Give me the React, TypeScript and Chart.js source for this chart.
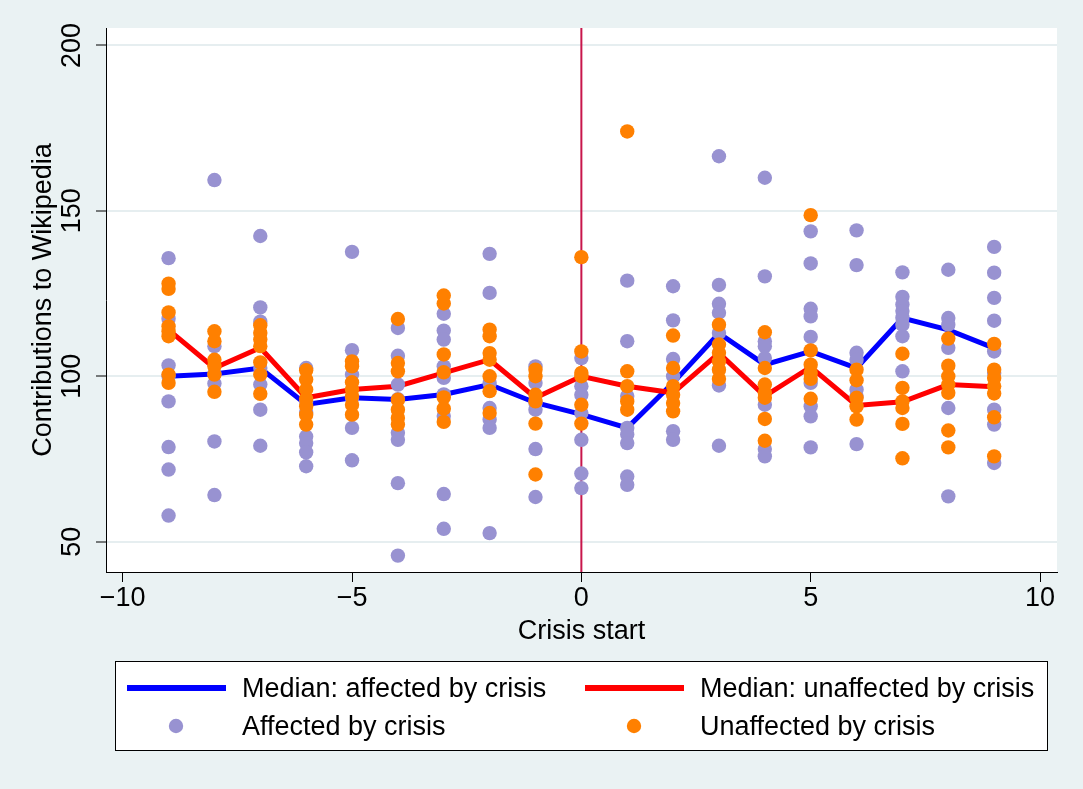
import { useEffect, useRef } from "react";
import { Chart, registerables } from "chart.js";

Chart.register(...registerables);

// Years relative to the start of the crisis
const periods = [-9, -8, -7, -6, -5, -4, -3, -2, -1, 0, 1, 2, 3, 4, 5, 6, 7, 8, 9];

// Median contributions per period
const medianAffected = [100, 100.7, 102.5, 91.5, 93.5, 93, 94.5, 97.5, 92, 88.5, 84.4, 98, 113, 103.5, 107.5, 102.5, 117.6, 114, 108.5];
const medianUnaffected = [114, 102.5, 108.6, 93.5, 96, 97, 101, 105, 93.5, 100, 97, 95, 107, 94, 102.8, 91.2, 92.3, 97.5, 96.8];

// Individual observations per period (same order as `periods`)
const affected: number[][] = [
  [135.7, 117.4, 103.3, 100, 92.4, 78.6, 71.8, 57.9],
  [159.3, 109.1, 100.7, 97.8, 80.3, 64.1],
  [142.4, 120.8, 116.5, 102.5, 97.5, 89.9, 79.0],
  [102.5, 92.4, 89, 81.8, 79.8, 77.0, 72.8],
  [137.6, 107.9, 100.5, 93.5, 84.4, 74.6],
  [114.6, 106.2, 97.5, 93.1, 82.9, 80.8, 67.7, 45.8],
  [118.9, 113.8, 111.1, 103.0, 99.5, 94.5, 88.0, 64.4, 53.9],
  [137.0, 125.2, 98.0, 90.4, 86.9, 84.4, 52.6],
  [103.0, 98.0, 92, 89.9, 78.0, 63.5],
  [105.5, 97.0, 94.4, 88.9, 80.8, 70.6, 66.2],
  [128.9, 110.6, 94.0, 84.4, 82.4, 79.8, 69.7, 67.2],
  [127.2, 116.9, 105.2, 100.0, 83.4, 80.8],
  [166.5, 127.6, 121.9, 119.2, 113.1, 97.2, 79.0],
  [160.0, 130.2, 110.6, 109.1, 105.5, 91.4, 78.0, 75.8],
  [143.8, 134.1, 120.4, 118.1, 111.9, 98.0, 90.9, 87.9, 78.5],
  [144.1, 133.6, 107.1, 105, 96.0, 94, 79.5],
  [131.4, 124.0, 121.7, 119.7, 117.7, 115.6, 112.1, 101.5],
  [132.2, 117.6, 115.6, 108.6, 90.4, 63.7],
  [139.1, 131.3, 123.7, 116.8, 107.5, 101.0, 89.9, 85.4, 73.8],
];
const unaffected: number[][] = [
  [128.0, 126.4, 119.3, 115.1, 113.6, 112.1, 100.5, 98.0],
  [113.6, 110.6, 105.0, 103.0, 100.5, 95.3],
  [115.4, 113.1, 111.1, 109.1, 104.2, 100.5, 94.7],
  [101.8, 99.0, 96.0, 93.2, 90.9, 88.4, 85.4],
  [104.5, 103.0, 98.2, 96.0, 94.0, 91.4, 88.4],
  [117.3, 104.0, 101.5, 92.9, 89.9, 87.4, 85.4],
  [124.4, 122.0, 106.6, 101.2, 93.6, 90.2, 86.2],
  [114.1, 112.1, 107.0, 105.0, 100.0, 95.5, 88.9],
  [102.0, 100.0, 94.4, 92.4, 85.7, 70.3],
  [136.0, 107.5, 101.0, 100.0, 91.4, 85.7],
  [174.0, 101.5, 97.0, 92.4, 89.9],
  [112.3, 102.5, 97.0, 94.4, 91.9, 89.4],
  [115.6, 109.6, 107.1, 104.5, 102.0, 99.2],
  [113.3, 102.5, 97.5, 95.0, 93.5, 87.1, 80.5],
  [148.7, 107.8, 103.5, 101.0, 99.2, 93.2],
  [102.0, 98.8, 93.5, 90.9, 86.9],
  [106.8, 96.5, 92.4, 90.4, 85.6, 75.2],
  [111.4, 103.2, 100.0, 97.5, 95.0, 83.6, 78.5],
  [109.8, 102.0, 99.5, 97.0, 94.8, 87.6, 75.8],
];

const xTicks = [-10, -5, 0, 5, 10];
const yTicks = [50, 100, 150, 200];
const crisisStart = 0;

const seriesLabels = [
  "Median: affected by crisis",
  "Median: unaffected by crisis",
  "Affected by crisis",
  "Unaffected by crisis",
];

const BLUE = "#0000FF";
const RED = "#FF0000";
const LAVENDER = "rgb(152,146,209)";
const ORANGE = "rgb(255,128,0)";
const FONT = '"Liberation Sans", Arial, Helvetica, sans-serif';
const FONT_SIZE = 27;
const POINT_R = 7.2;

const fmt = (v: number) => (v < 0 ? "\u2212" + Math.abs(v) : String(v));

const backdrop = {
  id: "backdrop",
  beforeDraw(chart: any) {
    const { ctx, width, height, chartArea: a } = chart;
    ctx.save();
    ctx.fillStyle = "#EAF2F3";
    ctx.fillRect(0, 0, width, height);
    ctx.fillStyle = "#FFFFFF";
    ctx.fillRect(a.left, a.top, a.right - a.left, a.bottom - a.top);
    ctx.restore();
  },
};

const crisisLine = {
  id: "crisisLine",
  beforeDatasetsDraw(chart: any) {
    const { ctx, chartArea: a } = chart;
    const x = chart.scales.x.getPixelForValue(crisisStart);
    ctx.save();
    ctx.strokeStyle = "#C8164B";
    ctx.lineWidth = 2;
    ctx.beginPath();
    ctx.moveTo(x, a.top);
    ctx.lineTo(x, a.bottom);
    ctx.stroke();
    ctx.restore();
  },
};

const legendBox = {
  id: "legendBox",
  afterDraw(chart: any) {
    const { ctx } = chart;
    ctx.save();
    ctx.fillStyle = "#FFFFFF";
    ctx.fillRect(115.5, 661.5, 932, 89);
    ctx.strokeStyle = "#000000";
    ctx.lineWidth = 1;
    ctx.strokeRect(115.5, 661.5, 932, 89);

    const cols = [
      { lineX0: 127, lineX1: 226, dotX: 176, textX: 242 },
      { lineX0: 585, lineX1: 684, dotX: 634, textX: 700 },
    ];
    const lineColors = [BLUE, RED];
    const dotColors = [LAVENDER, ORANGE];
    ctx.font = `${FONT_SIZE}px ${FONT}`;
    ctx.textBaseline = "alphabetic";
    ctx.textAlign = "left";
    cols.forEach((c, i) => {
      ctx.strokeStyle = lineColors[i];
      ctx.lineWidth = 6;
      ctx.beginPath();
      ctx.moveTo(c.lineX0, 688);
      ctx.lineTo(c.lineX1, 688);
      ctx.stroke();
      ctx.fillStyle = "#000";
      ctx.fillText(seriesLabels[i], c.textX, 697);

      ctx.fillStyle = dotColors[i];
      ctx.beginPath();
      ctx.arc(c.dotX, 726, POINT_R, 0, Math.PI * 2);
      ctx.fill();
      ctx.fillStyle = "#000";
      ctx.fillText(seriesLabels[i + 2], c.textX, 735);
    });
    ctx.restore();
  },
};

const toPoints = (groups: number[][]) =>
  periods.flatMap((p, i) => groups[i].map((v) => ({ x: p, y: v })));

export default function App() {
  const canvasRef = useRef<HTMLCanvasElement | null>(null);

  useEffect(() => {
    if (!canvasRef.current) return;
    const font = { family: FONT, size: FONT_SIZE };
    const chart = new Chart(canvasRef.current, {
      type: "scatter",
      data: {
        datasets: [
          {
            type: "line",
            label: seriesLabels[0],
            data: periods.map((p, i) => ({ x: p, y: medianAffected[i] })),
            borderColor: BLUE,
            borderWidth: 5,
            pointRadius: 0,
            fill: false,
            order: 3,
          },
          {
            type: "line",
            label: seriesLabels[1],
            data: periods.map((p, i) => ({ x: p, y: medianUnaffected[i] })),
            borderColor: RED,
            borderWidth: 5,
            pointRadius: 0,
            fill: false,
            order: 2,
          },
          {
            label: seriesLabels[2],
            data: toPoints(affected),
            backgroundColor: LAVENDER,
            pointRadius: POINT_R,
            pointHoverRadius: POINT_R,
            pointBorderWidth: 0,
            borderWidth: 0,
            order: 1,
          },
          {
            label: seriesLabels[3],
            data: toPoints(unaffected),
            backgroundColor: ORANGE,
            pointRadius: POINT_R,
            pointHoverRadius: POINT_R,
            pointBorderWidth: 0,
            borderWidth: 0,
            order: 0,
          },
        ],
      } as any,
      options: {
        animation: false,
        responsive: false,
        devicePixelRatio: 1,
        events: [],
        layout: { padding: { left: 0, top: 28, right: 26, bottom: 127 } },
        plugins: { legend: { display: false }, tooltip: { enabled: false } },
        scales: {
          x: {
            type: "linear",
            min: -10.364,
            max: 10.37,
            afterBuildTicks: (s: any) => {
              s.ticks = xTicks.map((v) => ({ value: v }));
            },
            afterFit: (s: any) => {
              s.height = 90;
            },
            grid: { drawOnChartArea: false, tickLength: 10, tickColor: "#000", tickWidth: 1 },
            border: { color: "#000", width: 1 },
            ticks: {
              color: "#000",
              font,
              padding: 0,
              maxRotation: 0,
              autoSkip: false,
              callback: (v: any) => fmt(Number(v)),
            },
            title: {
              display: true,
              text: "Crisis start",
              color: "#000",
              font,
              padding: { top: 0, bottom: 14 },
            },
          },
          y: {
            type: "linear",
            min: 40.84,
            max: 205.26,
            afterBuildTicks: (s: any) => {
              s.ticks = yTicks.map((v) => ({ value: v }));
            },
            afterFit: (s: any) => {
              s.width = 106;
            },
            grid: { color: "#E6EEF0", lineWidth: 2, tickLength: 10, tickColor: "#000", tickWidth: 1 },
            border: { color: "#000", width: 1 },
            ticks: {
              color: "#000",
              font,
              padding: 1,
              minRotation: 90,
              maxRotation: 90,
              crossAlign: "center",
              autoSkip: false,
              callback: (v: any) => String(v),
            },
            title: {
              display: true,
              text: "Contributions to Wikipedia",
              color: "#000",
              font,
              padding: { top: 27, bottom: 0 },
            },
          },
        },
      } as any,
      plugins: [backdrop, crisisLine, legendBox],
    });
    return () => chart.destroy();
  }, []);

  return (
    <div style={{ position: "absolute", left: 0, top: 0, width: 1083, height: 789 }}>
      <canvas ref={canvasRef} width={1083} height={789} style={{ display: "block" }} />
    </div>
  );
}
